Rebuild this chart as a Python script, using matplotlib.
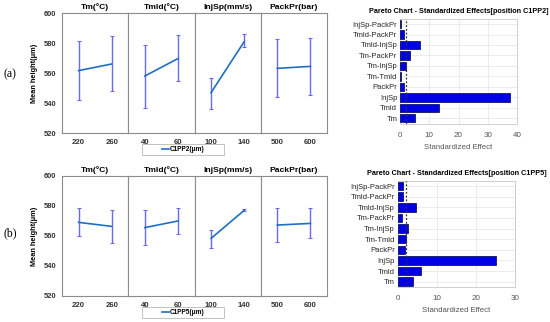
import matplotlib
matplotlib.use('Agg')
import matplotlib.pyplot as plt
from matplotlib.lines import Line2D
from matplotlib.patches import Rectangle
import numpy as np

plt.rcParams['font.family'] = ['Liberation Sans', 'DejaVu Sans']

# ---- data ----
factor_titles = ['Tm(°C)', 'Tmld(°C)', 'InjSp(mm/s)', 'PackPr(bar)']
factor_levels = [[220, 260], [40, 60], [100, 140], [500, 600]]

# C1PP2 main effects (mean, lower, upper)
c1pp2_mean = [[561.6, 566.0], [558.0, 569.6], [546.9, 580.9], [563.1, 564.4]]
c1pp2_low = [[541.8, 548.0], [536.9, 554.7], [536.0, 577.3], [544.2, 545.1]]
c1pp2_high = [[581.3, 584.4], [578.7, 585.3], [556.9, 585.8], [582.4, 583.6]]

# C1PP5 main effects
c1pp5_mean = [[569.1, 566.4], [565.6, 570.0], [558.4, 577.1], [567.3, 568.4]]
c1pp5_low = [[559.8, 555.3], [554.0, 561.6], [552.2, 576.7], [556.2, 558.4]]
c1pp5_high = [[578.9, 577.6], [577.1, 578.9], [564.2, 578.0], [578.4, 578.4]]

# pareto terms, top to bottom
pareto_terms = ['InjSp-PackPr', 'Tmld-PackPr', 'Tmld-InjSp', 'Tm-PackPr', 'Tm-InjSp',
                'Tm-Tmld', 'PackPr', 'InjSp', 'Tmld', 'Tm']
c1pp2_effects = [0.4, 1.25, 6.7, 3.3, 2.05, 0.35, 1.25, 37.7, 13.3, 5.0]
c1pp5_effects = [1.45, 1.45, 4.6, 1.0, 2.55, 2.2, 1.9, 25.2, 6.0, 4.0]
critical_value = 2.0

line_color = '#1f6fc4'
err_color = '#6a6af0'
frame_color = '#8c8c8c'
W, H = 550, 322

fig = plt.figure(figsize=(5.5, 3.22), dpi=100)


def main_effects(top_px, bottom_px, means, lows, highs, label):
    left_px, width_px = 62, 66.25
    for i in range(4):
        ax = fig.add_axes([(left_px + i * width_px) / W, 1 - bottom_px / H,
                           width_px / W, (bottom_px - top_px) / H])
        lv = factor_levels[i]
        d = lv[1] - lv[0]
        m = np.array(means[i])
        lo = m - np.array(lows[i])
        hi = np.array(highs[i]) - m
        ax.errorbar(lv, m, yerr=[lo, hi], fmt='none', ecolor=err_color,
                    elinewidth=1.0, capsize=1.2, capthick=0.8)
        ax.plot(lv, m, color=line_color, lw=1.2)
        ax.set_xlim(lv[0] - d / 2, lv[1] + d / 2)
        ax.set_ylim(520, 600)
        ax.set_xticks(lv)
        ax.set_xticklabels([str(v) for v in lv], fontsize=5.6, fontweight='bold', color='#333333')
        ax.set_title(factor_titles[i], fontsize=6.1, fontweight='bold', pad=3)
        for s in ax.spines.values():
            s.set_color(frame_color)
            s.set_linewidth(0.8)
        ax.tick_params(length=0, pad=4)
        if i == 0:
            ax.set_yticks([520, 540, 560, 580, 600])
            ax.set_yticklabels(['520', '540', '560', '580', '600'], fontsize=5.4,
                               fontweight='bold', color='#333333')
            ax.set_ylabel('Mean height(μm)', fontsize=5.3, fontweight='bold', labelpad=4)
        else:
            ax.set_yticks([])

    # legend box below the panels
    by = bottom_px + 11
    fig.patches.append(Rectangle((142 / W, 1 - (by + 10.5) / H), 82 / W, 10.5 / H,
                                 transform=fig.transFigure, facecolor='white',
                                 edgecolor='#b8b8b8', lw=0.6))
    fig.lines.append(Line2D([162 / W, 169 / W], [1 - (by + 5.3) / H] * 2,
                            transform=fig.transFigure, color=line_color, lw=1.2))
    fig.text(170 / W, 1 - (by + 5.3) / H, label, fontsize=4.7, fontweight='bold',
             ha='left', va='center')


def pareto(left_px, right_px, top_px, bottom_px, effects, xmax, title):
    ax = fig.add_axes([left_px / W, 1 - bottom_px / H,
                       (right_px - left_px) / W, (bottom_px - top_px) / H])
    n = len(pareto_terms)
    ypos = np.arange(n)[::-1]
    ax.barh(ypos, effects, height=0.8, color='#0000e6', edgecolor='#000040', linewidth=0.5,
            zorder=3)
    ax.axvline(critical_value, color='#333333', lw=0.9, ls=(0, (1.5, 1.5)), zorder=4)
    ax.set_ylim(-0.5, n - 0.5)
    ax.set_xlim(0, xmax)
    ax.set_yticks(ypos)
    ax.set_yticklabels(pareto_terms, fontsize=5.5, color='#262626')
    ax.set_xticks(np.arange(0, xmax + 1, 10))
    ax.tick_params(axis='x', labelsize=5.8, colors='#555555', length=0, pad=6)
    ax.tick_params(axis='y', length=0, pad=2)
    ax.grid(True, color='#e4e4e4', lw=0.5, zorder=0)
    ax.set_xlabel('Standardized Effect', fontsize=5.6, color='#555555', labelpad=3.5)
    ax.set_title(title, fontsize=5.2, fontweight='bold', pad=4)
    for s in ax.spines.values():
        s.set_color('#c8c8c8')
        s.set_linewidth(0.6)
    return ax


main_effects(13, 133, c1pp2_mean, c1pp2_low, c1pp2_high, 'C1PP2(μm)')
main_effects(176, 296, c1pp5_mean, c1pp5_low, c1pp5_high, 'C1PP5(μm)')

pareto(400, 517, 18.8, 123.5, c1pp2_effects, 40,
       'Pareto Chart - Standardized Effects[position C1PP2]')
pareto(397.7, 515, 180.7, 287, c1pp5_effects, 30,
       'Pareto Chart - Standardized Effects[position C1PP5]')

fig.text(10 / W, 1 - 74 / H, '(a)', fontsize=8.5, family='Liberation Serif', ha='center', va='center')
fig.text(10 / W, 1 - 233 / H, '(b)', fontsize=8.5, family='Liberation Serif', ha='center', va='center')

fig.savefig('out.png', dpi=100)
